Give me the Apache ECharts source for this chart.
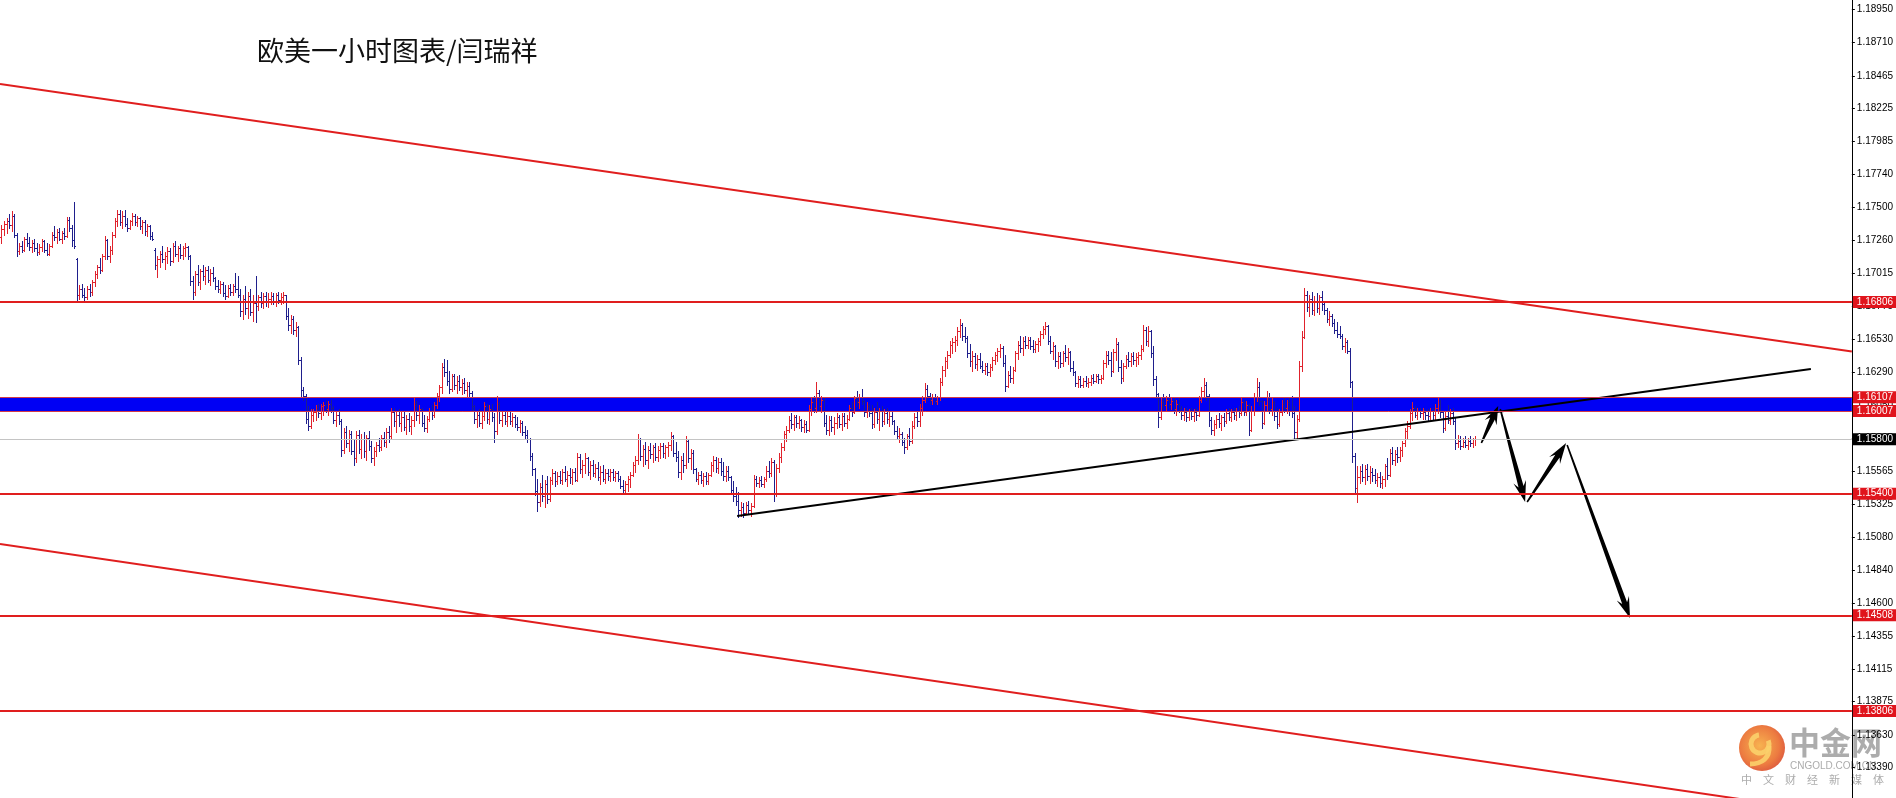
<!DOCTYPE html>
<html>
<head>
<meta charset="utf-8">
<title>欧美一小时图表</title>
<script src="https://cdn.jsdelivr.net/npm/echarts@6/dist/echarts.min.js"></script>
<style>
  html, body { margin: 0; padding: 0; background: #fff; }
  #chart { width: 1896px; height: 798px; }
</style>
</head>
<body>
<div id="chart"></div>
<script>
// hourly EURUSD bars, [open, high, low, close] in pips above 1.1000 (735 = 1.1735)
const stretch1 = [
  [728,737,724,734],[734,740,730,738],[738,742,731,740],[740,745,735,737],[737,747,733,744],
  [744,745,728,730],[730,731,714,718],[718,724,716,722],[722,725,717,719],[719,728,718,727],
  [727,731,722,724],[724,728,719,721],[721,726,717,724],[724,727,718,720],[720,724,715,717],
  [717,723,716,721],[721,727,718,725],[725,726,717,719],[719,724,715,716],[716,723,715,722],
  [722,732,721,730],[730,736,726,728],[728,734,724,732],[732,735,726,727],[727,733,724,731],
  [731,735,727,729],[729,743,728,741],[741,743,733,735],[735,737,722,726],[726,754,720,722],
  [712,713,682,686],[686,693,683,690],[690,694,684,686],[686,691,682,684],[684,692,683,690],
  [690,694,685,688],[688,697,686,695],[695,703,692,701],[701,708,698,706],[706,713,702,704],
  [704,716,703,714],[714,729,712,726],[726,727,712,714],[714,722,710,719],[719,732,716,730],
  [730,742,728,740],[740,748,736,745],[745,748,737,739],[739,747,735,744],[744,748,736,738],
  [738,742,733,735],[735,741,734,740],[740,746,737,744],[744,745,737,739],[739,744,736,742],
  [742,743,734,736],[736,741,731,739],[739,741,730,733],[733,738,729,736],[736,737,727,729],
  [729,732,726,727],[719,720,705,708],[708,714,699,712],[712,718,706,716],[716,722,710,712],
  [712,717,705,714],[714,721,709,718],[718,720,708,711],[711,724,710,722],[722,725,714,716],
  [716,722,711,720],[720,723,713,715],[715,722,712,720],[720,724,714,721],[721,722,712,714],
  [714,715,693,696],[696,700,683,688],[688,703,686,701],[701,708,693,695],[695,705,690,703],
  [703,708,697,700],[700,706,694,704],[704,707,695,697],[697,705,693,702],[702,706,696,698],
  [698,699,690,692],[692,697,688,690],[690,696,687,694],[694,695,685,687],[687,693,683,685],
  [685,693,684,691],[691,694,686,688],[688,694,686,692],[692,702,688,690],[690,700,684,686],
  [686,690,670,674],[674,686,668,683],[683,692,672,676],[676,688,669,685],[685,690,671,673],
  [673,686,667,680],[680,700,666,678],[678,686,675,684],[684,688,677,680],[680,687,676,685],
  [685,688,678,681],[681,687,677,683],[683,688,679,685],[685,687,679,681],[681,687,678,686],
  [686,688,680,682],[682,687,679,684],[684,688,680,686],[686,686,668,670],[670,676,660,664],
  [664,671,658,668],[668,670,657,660],[660,666,656,662],[662,663,635,638],[638,640,612,616],
  [616,618,609,612],[612,613,592,595],[595,604,587,590],[590,602,588,598],[598,602,593,600],
  [600,605,594,603],[603,606,596,599],[599,606,595,604],[604,607,598,605],[605,609,600,602],
  [602,608,598,606],[606,609,600,603],[603,604,592,594],[594,601,590,598],[598,602,591,593],
  [593,595,568,572],[572,588,570,585],[585,590,574,577],[577,587,571,584],[584,586,569,571],
  [571,580,561,566],[566,586,563,583],[583,587,570,573],[573,584,566,580],[580,585,567,571],
  [571,583,565,581],[581,586,572,575]
];
const stretch2 = [
  [575,579,563,566],[566,574,561,571],[571,578,568,576],[576,581,571,574],[574,583,572,581],
  [581,585,575,578],[578,588,574,585],[585,590,578,582],[582,603,580,600],[600,603,590,593],
  [593,601,585,598],[598,602,590,592],[592,600,586,596],[596,600,587,589],[589,598,584,595],
  [595,599,586,590],[590,597,584,594],[594,610,590,606],[606,608,594,598],[598,605,592,602],
  [602,603,590,592],[592,598,586,588],[588,597,585,595],[595,603,593,601],[601,605,595,598],
  [598,607,596,605],[605,614,603,612],[612,620,608,618],[618,636,614,633],[633,639,626,629],
  [629,638,620,623],[623,630,614,617],[617,628,615,626],[626,628,617,620],[620,626,614,623],
  [623,627,616,618],[618,624,613,621],[621,625,614,616],[616,622,611,619],[619,622,612,614],
  [614,615,601,604],[604,605,592,595],[595,601,589,598],[598,602,590,592],[592,600,588,597],
  [597,607,594,604],[604,606,592,595],[595,605,591,602],[602,606,593,596],[596,599,578,586],
  [586,612,584,606],[606,607,592,594],[594,600,590,598],[598,601,591,593],[593,600,590,597],
  [597,600,591,593],[593,599,590,596],[596,598,589,591],[591,596,587,589],[589,594,585,592],
  [592,593,583,585],[585,590,581,583],[583,587,578,580],[580,581,565,568],[568,570,554,558],
  [558,559,539,542],[542,551,527,534],[534,548,531,545],[545,554,535,538],[538,550,530,547],
  [547,553,533,536],[536,552,535,550],[550,558,547,555],[555,557,546,549],[549,556,547,553],
  [553,557,548,550],[550,558,547,556],[556,560,549,551],[551,557,546,554],[554,559,548,552],
  [552,558,547,556],[556,559,549,550],[550,570,549,567],[567,569,555,558],[558,565,552,561],
  [561,570,555,566],[566,567,554,556],[556,564,551,561],[561,565,553,555],[555,562,552,559],
  [559,563,550,552],[552,560,547,556],[556,561,549,551],[551,558,548,555],[555,558,550,553],
  [553,558,549,556],[556,558,550,552],[552,557,549,555],[555,557,549,551],[551,553,544,546],
  [546,550,541,543],[543,549,540,547],[547,553,542,551],[551,556,545,554],[554,563,553,561],
  [561,568,556,565],[565,584,562,580],[580,581,565,568],[568,576,560,573],[573,578,562,565],
  [565,575,559,572],[572,577,566,569],[569,576,563,574],[574,577,565,567],[567,575,564,572],
  [572,577,566,575],[575,577,567,570],[570,576,566,574],[574,578,568,576],[576,585,572,582],
  [582,583,568,570],[570,578,564,567],[567,571,552,556],[556,568,551,565],[565,570,556,561],
  [561,582,559,579],[579,580,563,566],[566,573,558,570],[570,572,555,558],[558,559,549,551],
  [551,556,547,554],[554,557,548,550],[550,555,546,553],[553,556,547,549],[549,555,547,554],
  [554,563,553,561],[561,568,557,565],[565,567,556,559],[559,566,555,563],[563,566,554,557],
  [557,563,550,553],[553,560,549,557],[557,560,550,552],[552,553,540,543],[543,549,535,538],
  [538,545,532,535],[535,541,523,528]
];
const stretch3 = [
  [528,534,524,530],[530,533,523,526],[526,534,525,532],[532,535,526,528],[528,533,524,531],
  [531,554,530,551],[551,553,546,548],[548,552,545,550],[550,553,546,547],[547,552,545,551],
  [551,560,549,557],[557,564,552,555],[555,566,553,563],[563,565,535,540],[540,562,538,559],
  [559,570,556,567],[567,577,563,574],[574,586,572,584],[584,590,579,587],[587,597,585,594],
  [594,599,588,591],[591,598,587,596],[596,598,589,592],[592,597,588,594],[594,595,586,589],
  [589,594,585,591],[591,593,585,587],[587,605,586,602],[602,610,598,607],[607,612,600,603],
  [603,622,600,614],[614,616,601,604],[604,612,600,609],[609,610,590,592],[592,598,584,587],
  [587,597,583,594],[594,597,586,589],[589,596,584,592],[592,599,588,596],[596,598,589,591],
  [591,599,587,597],[597,599,590,592],[592,598,588,595],[595,605,594,603],[603,607,597,600],
  [600,612,599,610],[610,615,604,607],[607,613,603,611],[611,617,606,608],[608,609,597,600],
  [600,607,596,604],[604,606,597,599],[599,605,588,591],[591,603,589,600],[600,607,592,595],
  [595,603,587,601],[601,604,590,593],[593,602,591,599],[599,603,592,595],[595,601,590,597],
  [597,600,591,593],[593,594,584,586],[586,590,580,582],[582,588,578,584],[584,585,576,578],
  [578,581,570,574],[574,584,573,582],[582,588,576,579],[579,593,577,590],[590,599,588,596],
  [596,600,590,593],[593,606,590,603],[603,612,598,609],[609,621,607,617],[617,620,609,612],
  [612,614,606,609],[609,613,606,611],[611,613,606,608],[608,612,606,611],[611,625,609,622],
  [622,634,620,631],[631,640,626,637],[637,645,632,642],[642,652,640,649],[649,654,643,651],
  [651,656,645,653],[653,662,649,659],[659,668,655,664],[664,665,653,656],[656,662,651,654],
  [654,656,640,643],[643,650,634,637],[637,645,630,641],[641,643,632,635],[635,642,631,639],
  [639,643,632,634],[634,637,629,631],[631,636,628,634],[634,636,627,629],[629,635,626,633],
  [633,640,631,638],[638,644,635,642],[642,647,637,645],[645,650,640,647],[647,648,634,636],
  [636,642,615,619],[619,630,618,627],[627,634,622,625],[625,633,621,631],[631,645,630,643],
  [643,652,639,649],[649,656,644,647],[647,655,642,652],[652,656,647,649],[649,655,647,653],
  [653,655,646,648],[648,653,644,646],[646,652,644,650],[650,654,645,652],[652,659,649,657],
  [657,663,654,661],[661,666,657,663],[663,664,650,652],[652,656,643,645],[645,651,639,648],
  [648,649,634,637],[637,644,632,641],[641,644,633,636],[636,645,634,643],[643,649,637,640],
  [640,647,635,644],[644,645,630,632],[632,637,627,629],[629,630,619,621],[621,626,618,624],
  [624,626,618,620],[620,625,618,623],[623,626,619,621],[621,625,618,622],[622,627,620,625],
  [625,628,621,623],[623,628,622,626],[626,628,621,624],[624,627,621,625],[625,638,624,636],
  [636,645,633,642],[642,645,635,638]
];
const stretch4 = [
  [638,644,626,630],[630,646,629,644],[644,654,638,650],[650,651,630,633],[633,638,621,625],
  [625,636,623,634],[634,642,632,639],[639,644,634,637],[637,643,634,641],[641,644,635,638],
  [638,643,634,640],[640,644,635,642],[642,649,639,646],[646,664,645,660],[660,662,649,652],
  [652,663,648,659],[659,660,640,643],[643,648,620,624],[624,626,610,613],[613,614,589,596],
  [596,610,595,607],[607,613,602,605],[605,612,601,609],[609,613,603,606],[606,611,602,608],
  [608,610,599,602],[602,609,598,606],[606,610,600,603],[603,604,595,598],[598,603,594,600],
  [600,603,593,596],[596,602,594,601],[601,603,595,597],[597,602,593,600],[600,603,594,598],
  [598,612,597,609],[609,618,607,615],[615,625,611,620],[620,622,609,612],[612,613,590,594],
  [594,596,584,587],[587,594,583,591],[591,598,588,595],[595,599,589,592],[592,598,587,596],
  [596,599,590,593],[593,602,592,599],[599,603,594,596],[596,602,593,600],[600,603,595,598],
  [598,603,594,601],[601,604,596,599],[599,611,598,607],[607,609,598,600],[600,608,598,605],
  [605,606,583,587],[587,604,586,601],[601,614,598,611],[611,625,608,618],[618,622,605,608],
  [608,609,588,592],[592,608,591,605],[605,615,601,611],[611,614,599,602],[602,610,598,607],
  [607,608,594,597],[597,603,588,591],[591,602,590,600],[600,609,598,606],[606,610,600,603],
  [603,609,599,607],[607,610,598,601],[601,612,596,599],[599,604,581,585],[585,598,580,595],
  [595,637,593,634],[634,659,630,655],[655,691,654,686],[686,689,674,677],[677,686,670,683],
  [683,688,672,675],[675,685,671,681],[681,687,673,676],[676,686,672,684],[684,689,675,679],
  [679,681,672,675],[675,676,666,668],[668,674,664,670],[670,672,663,665],[665,668,658,660],
  [660,666,655,657],[657,663,654,656],[656,657,646,648],[648,654,644,651],[651,653,643,645],
  [645,647,618,622],[622,623,563,568],[568,570,540,544],[544,560,534,552],[552,560,548,557],
  [557,562,549,552],[552,561,547,558],[558,562,550,553],[553,560,548,556],[556,559,549,554],
  [554,558,548,550],[550,555,546,552],[552,556,545,548],[548,553,544,551],[551,562,546,560],
  [560,566,551,554],[554,573,553,570],[570,574,562,565],[565,572,561,569],[569,574,563,567],
  [567,574,564,572],[572,579,568,577],[577,588,575,586],[586,593,581,590],[590,602,588,599],
  [599,607,594,603],[603,604,596,598],[598,603,595,601],[601,603,596,599],[599,603,595,600],
  [600,602,595,598],[598,602,594,597],[597,603,595,601],[601,603,595,598],[598,606,594,603],
  [603,611,599,606],[606,609,596,600],[600,601,585,588],[588,600,587,597],[597,605,592,594],
  [594,602,591,599],[599,603,591,593],[593,596,573,577],[577,583,574,579],[579,582,573,575],
  [575,581,574,578],[578,582,574,576],[576,581,573,579],[579,582,575,577],[577,581,574,580],
  [580,582,576,580]
];

// price scale labels on the right
const tickLabels = ['1.18950','1.18710','1.18465','1.18225','1.17985','1.17740','1.17500','1.17260',
  '1.17015','1.16775','1.16530','1.16290','1.16050','1.15805','1.15565','1.15325','1.15080','1.14840',
  '1.14600','1.14355','1.14115','1.13875','1.13630','1.13390'];

// horizontal levels
const levels = [1.16806, 1.15400, 1.14508, 1.13806];
const bandEdges = [1.16107, 1.16007];
const bidPrice = 1.15800;

// drawn lines, points as [bar index, price]
const channelTop = [[-0.6, 1.18405], [735.7, 1.16443]];
const channelBottom = [[-0.6, 1.15031], [735.7, 1.13040]];
const supportLine = [[292.5, 1.15236], [719.4, 1.16314]];
// projected path, [from bar, from price, to bar, to price]
const arrows = [
  [588.4, 1.15772, 595.1, 1.16043],
  [595.9, 1.16021, 605.8, 1.15339],
  [606.6, 1.15339, 622.1, 1.15772],
  [622.5, 1.15757, 647.5, 1.14488]
];

const upColor = '#e0222c';
const downColor = '#1f1f8c';
const lineRed = '#e01e1e';

const allBars = [].concat(stretch1, stretch2, stretch3, stretch4);
const barData = allBars.map((b, i) => [i, 1.1 + b[0] / 10000, 1.1 + b[1] / 10000, 1.1 + b[2] / 10000, 1.1 + b[3] / 10000]);

function renderBar(params, api) {
  const i = api.value(0);
  const open = api.value(1), close = api.value(4);
  const pO = api.coord([i, open]);
  const pH = api.coord([i, api.value(2)]);
  const pL = api.coord([i, api.value(3)]);
  const pC = api.coord([i, close]);
  const x = Math.round(pH[0]) + 0.5;
  const color = close >= open ? upColor : downColor;
  const yo = Math.round(pO[1]) + 0.5, yc = Math.round(pC[1]) + 0.5;
  return {
    type: 'group',
    children: [
      { type: 'line', shape: { x1: x, y1: Math.round(pH[1]), x2: x, y2: Math.round(pL[1]) + 1 }, style: { stroke: color, lineWidth: 1 } },
      { type: 'line', shape: { x1: x - 1.5, y1: yo, x2: x, y2: yo }, style: { stroke: color, lineWidth: 1 } },
      { type: 'line', shape: { x1: x, y1: yc, x2: x + 1.5, y2: yc }, style: { stroke: color, lineWidth: 1 } }
    ]
  };
}

function renderArrow(params, api) {
  const a = api.coord([api.value(0), api.value(1)]);
  const b = api.coord([api.value(2), api.value(3)]);
  const dx = b[0] - a[0], dy = b[1] - a[1];
  const len = Math.hypot(dx, dy);
  const ux = dx / len, uy = dy / len, nx = -uy, ny = ux;
  const head = Math.min(21, len * 0.45), w0 = 0.8, w1 = 2.6, wh = 6.5;
  const bx = b[0] - ux * head, by = b[1] - uy * head;
  const hx = b[0] - ux * head * 0.75, hy = b[1] - uy * head * 0.75;
  return {
    type: 'polygon',
    shape: { points: [
      [a[0] + nx * w0, a[1] + ny * w0], [hx + nx * w1, hy + ny * w1], [bx + nx * wh, by + ny * wh],
      [b[0], b[1]],
      [bx - nx * wh, by - ny * wh], [hx - nx * w1, hy - ny * w1], [a[0] - nx * w0, a[1] - ny * w0]
    ] },
    style: { fill: '#000' }
  };
}

function tag(value, bg, lineColor, width) {
  return {
    yAxis: value,
    lineStyle: { color: lineColor, width: width, type: 'solid' },
    label: {
      show: true, position: 'end', distance: 1,
      formatter: value.toFixed(5),
      color: '#fff', backgroundColor: bg,
      fontSize: 10, fontFamily: 'Liberation Sans, Arial, sans-serif',
      padding: [1, 4, 1, 4], lineHeight: 10
    }
  };
}

const chart = echarts.init(document.getElementById('chart'));
chart.setOption({
  animation: false,
  backgroundColor: '#fff',
  grid: { left: 0, right: 42, top: 0, bottom: 0 },
  xAxis: { type: 'value', min: -0.596, max: 735.7, show: false },
  yAxis: {
    type: 'value', position: 'right', min: 1.13168, max: 1.19021,
    splitLine: { show: false },
    axisLine: { show: true, onZero: false, lineStyle: { color: '#000', width: 1 } },
    axisTick: { show: true, length: 3, lineStyle: { color: '#000' }, customValues: tickLabels.map(Number) },
    axisLabel: {
      show: true, margin: 5, color: '#000', fontSize: 10,
      fontFamily: 'Liberation Sans, Arial, sans-serif',
      customValues: tickLabels.map(Number),
      formatter: v => v.toFixed(5)
    }
  },
  graphic: [
    { type: 'text', left: 257, top: 37, z: 10,
      style: { text: '欧美一小时图表/闫瑞祥', fill: '#111', font: '27px "Noto Sans CJK SC", sans-serif' } },
    { type: 'group', z: 100, silent: true, children: [
      { type: 'circle', shape: { cx: 1762, cy: 748, r: 23 },
        style: { opacity: 0.85, fill: { type: 'radial', x: 0.45, y: 0.45, r: 0.6,
          colorStops: [{ offset: 0, color: '#f6a531' }, { offset: 0.7, color: '#e9641f' }, { offset: 1, color: '#d63b1d' }] } } },
      { type: 'arc', shape: { cx: 1760, cy: 744, r: 9, startAngle: -0.4, endAngle: 4.6 },
        style: { stroke: '#fbd06a', lineWidth: 5, fill: 'none', opacity: 0.9 } },
      { type: 'bezierCurve', shape: { x1: 1769, y1: 746, cpx1: 1770, cpy1: 758, cpx2: 1762, cpy2: 764, x2: 1750, y2: 764 },
        style: { stroke: '#fbd06a', lineWidth: 5, fill: 'none', opacity: 0.9 } },
      { type: 'text', x: 1789, y: 727,
        style: { text: '中金网', fill: 'rgba(140,140,140,0.72)', font: 'bold 31px "Noto Sans CJK SC", sans-serif' } },
      { type: 'text', x: 1790, y: 761,
        style: { text: 'CNGOLD.COM.CN', fill: 'rgba(150,150,150,0.8)', font: '10px "Liberation Sans", Arial, sans-serif' } },
      { type: 'text', x: 1741, y: 774,
        style: { text: '中\u3000文\u3000财\u3000经\u3000新\u3000媒\u3000体', fill: 'rgba(150,150,150,0.8)', font: '11px "Noto Sans CJK SC", sans-serif' } }
    ] }
  ],
  series: [
    {
      type: 'line', z: 1, data: channelTop, showSymbol: false, silent: true,
      lineStyle: { color: lineRed, width: 2 },
      markArea: {
        silent: true,
        itemStyle: { color: '#0000f4', opacity: 1 },
        data: [[{ yAxis: bandEdges[1] }, { yAxis: bandEdges[0] }]]
      },
      markLine: {
        silent: true, symbol: ['none', 'none'], animation: false, precision: 5,
        data: [
          tag(bidPrice, '#000', '#c4c4c4', 1),
          tag(bandEdges[0], '#e0141c', '#d23a4a', 1),
          tag(bandEdges[1], '#e0141c', '#d23a4a', 1)
        ].concat(levels.map(v => tag(v, '#e0141c', lineRed, 2)))
      }
    },
    { type: 'line', z: 1, data: channelBottom, showSymbol: false, silent: true, lineStyle: { color: lineRed, width: 2 } },
    {
      type: 'custom', z: 2, silent: true, clip: true,
      renderItem: renderBar,
      encode: { x: 0, y: [1, 2, 3, 4] },
      data: barData
    },
    { type: 'line', z: 3, data: supportLine, showSymbol: false, silent: true, lineStyle: { color: '#000', width: 2 } },
    {
      type: 'custom', z: 4, silent: true,
      renderItem: renderArrow,
      encode: { x: [0, 2], y: [1, 3] },
      data: arrows
    }
  ]
});
</script>
</body>
</html>
